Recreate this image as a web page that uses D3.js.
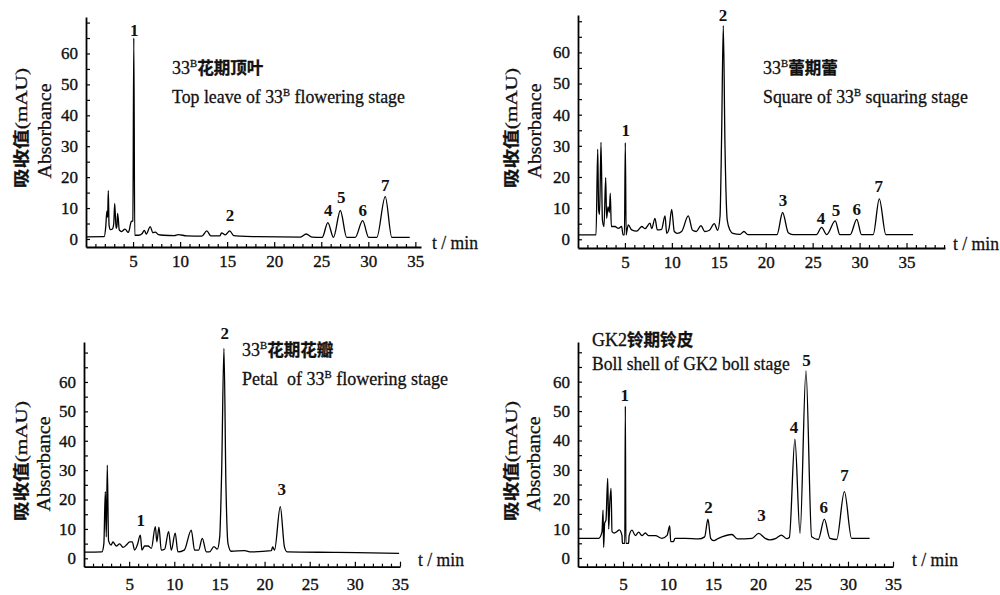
<!DOCTYPE html>
<html>
<head>
<meta charset="utf-8">
<script src="https://cdn.jsdelivr.net/npm/d3@7"></script>
<style>
body{margin:0;background:#fff;}
svg{display:block;}
svg text{white-space:pre;}
</style>
</head>
<body>
<svg id="chart" width="1000" height="595"></svg>
<script>
// ---- data: [time (min), absorbance (mAU)]
var leafTrace = [[0,0.7],[1.93,0.75],[2.1,4],[2.22,9],[2.3,7],[2.37,15.6],[2.45,4.5],[2.6,3],[2.8,3.2],[2.95,5],[3.05,11.5],[3.2,3.4],[3.28,4],[3.36,8.3],[3.54,2.9],[3.79,2.4],[4.14,3.2],[4.5,2.1],[4.81,5.6],[4.98,5.9],[5.08,65],[5.18,1.2],[5.59,1.2],[5.95,1.7],[6.2,2.8],[6.41,1.6],[6.83,4],[7.1,2],[7.36,2.2],[7.7,1.4],[8.24,1.2],[9.4,1.1],[9.8,1.4],[10.7,1.0],[12.3,0.9],[12.84,2.6],[13.26,1.0],[14.24,1.0],[14.4,2.0],[14.8,1.3],[15.27,2.6],[15.7,1.1],[16.4,0.9],[18.2,0.75],[22.8,0.6],[23.4,1.6],[24,0.6],[25.1,0.5],[25.7,5.3],[26.3,0.5],[27.03,9.2],[27.7,0.5],[28.6,0.5],[29.4,5.9],[30.04,0.5],[30.9,0.5],[31.8,13.7],[32.5,0.5],[34.4,0.5]];
var squareTrace = [[0,1.4],[1.92,1.4],[2.1,28.9],[2.2,9.4],[2.3,8],[2.45,31.1],[2.6,6.2],[2.77,4.1],[2.95,19.8],[3.05,6.7],[3.2,10.5],[3.34,8.6],[3.44,14.8],[3.55,4.1],[3.94,4.1],[4.3,3.5],[4.65,4.1],[4.8,1.4],[4.95,1.4],[5.04,31],[5.13,1.4],[5.2,2.5],[5.36,4.6],[5.72,3],[6.25,2.6],[6.8,4.1],[7.15,3.4],[7.67,5.2],[7.85,3.4],[8.2,6.7],[8.45,3],[8.9,3.2],[9.27,7.5],[9.45,1.9],[9.7,3.4],[9.98,9.6],[10.26,2.5],[10.58,1.9],[11.04,2.5],[11.75,7.5],[12.2,2.9],[12.6,2.5],[13.1,4.4],[13.5,2.5],[14.0,2.9],[14.52,5.0],[14.88,2.9],[15.13,7.3],[15.3,33],[15.48,68.6],[15.66,30],[15.9,6.1],[16.2,2.9],[16.5,1.9],[17.26,1.6],[17.68,2.5],[18.1,1.5],[21.2,1.5],[21.8,8.6],[22.4,2.1],[22.9,1.5],[25.4,1.5],[25.95,3.8],[26.5,1.5],[27.4,5.9],[27.9,1.5],[29.0,1.5],[29.7,6.4],[30.2,1.5],[31.45,1.5],[32.1,13],[32.8,1.5],[35.7,1.5]];
var petalTrace = [[0,2.1],[1.99,2.2],[2.2,5],[2.36,22.7],[2.47,7.3],[2.58,31.7],[2.72,6],[3.0,4.5],[3.2,5.6],[3.57,4.2],[3.95,4.9],[4.32,3.7],[4.69,4.5],[5.06,5.6],[5.35,5.6],[5.6,2.8],[5.9,4.5],[6.24,7.9],[6.42,2.8],[6.72,4.2],[7.09,4.2],[7.46,3.4],[7.9,10.8],[8.07,5.6],[8.3,10.6],[8.56,2.8],[8.93,3.1],[9.37,9.1],[9.67,2.8],[10.1,8.6],[10.4,2.2],[11.1,2.8],[11.88,9.6],[12.25,2.8],[12.7,2.8],[13.1,6.8],[13.55,2.2],[13.9,2.2],[14.4,4],[14.76,3.1],[15.03,7.3],[15.25,30],[15.5,71.4],[15.72,25],[15.95,5],[16.3,2.4],[17.8,2.6],[18.5,2.2],[20.75,2.6],[20.9,3.9],[21.1,2.8],[21.74,17.6],[22.2,3.9],[22.5,2.2],[28,2.0],[34.9,1.7]];
var bollTrace = [[0,6.7],[2.3,6.7],[2.67,9],[2.78,16.3],[2.85,3.6],[2.96,11.8],[3.11,13],[3.3,27.1],[3.41,9.8],[3.52,18],[3.67,23.7],[3.78,9],[4.04,8.5],[4.33,9],[4.59,9.6],[4.89,7.6],[4.93,5],[5.2,5],[5.26,51.7],[5.32,5],[5.62,5],[5.68,7.5],[6.0,9.5],[6.37,7.6],[6.74,8.8],[7.1,7.6],[7.48,8.5],[7.85,7.6],[8.6,7.6],[9.33,6.7],[9.9,7.7],[10.19,10.9],[10.3,5.6],[10.6,5.6],[10.78,6.7],[11.93,6.7],[13.4,6.5],[14.07,7.2],[14.44,13.2],[14.74,6.7],[15.07,5.9],[15.6,6.7],[17.1,8],[17.7,6.5],[19.33,6.7],[20.07,8.4],[20.8,6.7],[21.3,6.2],[22.0,6.7],[22.6,7.8],[23.2,6.6],[23.48,7],[24.1,40.4],[24.67,8.4],[25.33,63.7],[25.96,7.2],[26.7,6.3],[27.37,13.2],[27.99,6.7],[28.74,6.3],[29.6,22.6],[30.4,6.7],[32.4,6.7]];

// peak labels: [name, time, label level (mAU)]
var leafPeaks = [["1",5.13,63.4],["2",15.3,3.6],["4",25.75,5.2],["5",27.13,9.4],["6",29.4,5.2],["7",31.8,13.3]];
var squarePeaks = [["1",5.1,31],["2",15.44,67.9],["3",21.83,8.4],["4",25.88,2.6],["5",27.5,5.2],["6",29.7,5.5],["7",32.05,12.9]];
var petalPeaks = [["1",6.29,8.6],["2",15.6,72.3],["3",21.9,19.1]];
var bollPeaks = [["1",5.19,51],["2",14.5,12.9],["3",20.4,10.2],["4",24,40.1],["5",25.4,62.9],["6",27.3,12.9],["7",29.6,23.8]];

var titlesCn = ["33^B花期顶叶","33^B蕾期蕾","33^B花期花瓣","GK2铃期铃皮"];
var titlesEn = ["Top leave of 33^B flowering stage","Square of 33^B squaring stage","Petal  of 33^B flowering stage","Boll shell of GK2 boll stage"];
var yTickValues = [0,10,20,30,40,50,60];
var yTitleCn = "吸收值(mAU)", yTitleEn = "Absorbance", xUnit = "t / min";

var serif = '"Liberation Serif","Times New Roman",serif';
var cjk = '"Noto Sans CJK SC","Noto Sans CJK JP",sans-serif';
var svg = d3.select("#chart");

// layout of the four panels
var panels = [
  {trace:leafTrace, peaks:leafPeaks, cn:titlesCn[0], en:titlesEn[0],
   xd:[0,35.6], xr:[86,421], yd:[-2.6,71.8], yr:[247,17], pad:8,
   cnAt:[172,74], enAt:[172,103], enW:233, unitAt:[432,249], yt:[27,51,128]},
  {trace:squareTrace, peaks:squarePeaks, cn:titlesCn[1], en:titlesEn[1],
   xd:[0,39.1], xr:[578,945], yd:[-2.8,72], yr:[248,15], pad:8,
   cnAt:[763,74], enAt:[763,103], enW:205, unitAt:[953,250], yt:[517,541,128]},
  {trace:petalTrace, peaks:petalPeaks, cn:titlesCn[2], en:titlesEn[2],
   xd:[0,35], xr:[84,400], yd:[-2.85,73.6], yr:[566.7,342], pad:11,
   cnAt:[242,356], enAt:[242,385], enW:206, unitAt:[418,566], yt:[27,50,461]},
  {trace:bollTrace, peaks:bollPeaks, cn:titlesCn[3], en:titlesEn[3],
   xd:[0,35], xr:[578,893], yd:[-2.96,73.5], yr:[566.7,342], pad:11,
   cnAt:[592,346], enAt:[592,370], enW:198, unitAt:[912,566], yt:[517,540,461]}
];

// text with CJK runs, serif runs and a ^B superscript
function richText(sel, str, size) {
  var parts = str.split("^B");
  parts.forEach(function(part, i) {
    if (i > 0) {
      sel.append("tspan").attr("font-family", serif).attr("font-size", size*0.6)
        .attr("dy", -size*0.38).text("B");
    }
    var runs = part.match(/[\u4e00-\u9fff]+|[^\u4e00-\u9fff]+/g) || [];
    runs.forEach(function(r, j) {
      var isCjk = /[\u4e00-\u9fff]/.test(r);
      var t = sel.append("tspan")
        .attr("font-family", isCjk ? cjk : serif)
        .attr("font-weight", isCjk ? "bold" : "normal")
        .attr("font-size", isCjk ? size*0.92 : size)
        .text(r);
      if (i > 0 && j == 0) t.attr("dy", size*0.38);
    });
  });
  sel.attr("fill", "#111").attr("stroke", "#111").attr("stroke-width", 0.3);
}

// squeeze a text node horizontally to a target width
function fitWidth(textSel, x, y, w, rot) {
  var bw = textSel.node().getComputedTextLength();
  var s = w / bw;
  textSel.attr("transform", "translate(" + x + "," + y + ")" + (rot ? " rotate(" + rot + ")" : "") + " scale(" + s + ",1)");
}

panels.forEach(function(p) {
  var x = d3.scaleLinear().domain(p.xd).range(p.xr);
  var y = d3.scaleLinear().domain(p.yd).range(p.yr);
  var g = svg.append("g");

  // minor x ticks each minute
  var xMinor = d3.range(1, Math.floor(p.xd[1]) + 1).filter(function(d){ return d % 5 != 0; });
  g.append("g").attr("transform", "translate(0," + p.yr[0] + ")")
    .call(d3.axisBottom(x).tickValues(xMinor).tickSizeInner(-3).tickSizeOuter(0).tickFormat(""))
    .call(function(a){ a.select(".domain").remove(); });
  var xMajor = d3.range(5, Math.floor(p.xd[1]) + 1, 5);
  var xa = g.append("g").attr("transform", "translate(0," + p.yr[0] + ")")
    .call(d3.axisBottom(x).tickValues(xMajor).tickSizeInner(-5).tickSizeOuter(0).tickPadding(p.pad));
  xa.selectAll("text").attr("font-family", serif).attr("font-size", 17).attr("fill", "#111")
    .attr("stroke", "#111").attr("stroke-width", 0.35);

  var yTicks = d3.range(0, p.yd[1], 5);
  var ya = g.append("g").attr("transform", "translate(" + x(0) + ",0)")
    .call(d3.axisLeft(y).tickValues(yTicks).tickSizeInner(-4).tickSizeOuter(0).tickPadding(8)
      .tickFormat(function(d){ return yTickValues.indexOf(d) >= 0 ? d : ""; }));
  ya.selectAll("text").attr("font-family", serif).attr("font-size", 17).attr("fill", "#111")
    .attr("stroke", "#111").attr("stroke-width", 0.35);

  g.selectAll(".domain").attr("stroke", "#000").attr("stroke-width", 1.8);
  g.selectAll(".tick line").attr("stroke", "#000").attr("stroke-width", 1.2);

  // chromatogram trace
  var line = d3.line().x(function(d){ return x(d[0]); }).y(function(d){ return y(d[1]); })
    .curve(d3.curveMonotoneX);
  g.append("path").datum(p.trace).attr("d", line)
    .attr("fill", "none").attr("stroke", "#000").attr("stroke-width", 1.3).attr("stroke-linejoin", "round");

  // peak numbers
  g.selectAll("text.peak").data(p.peaks).enter().append("text").attr("class", "peak")
    .attr("x", function(d){ return x(d[1]); })
    .attr("y", function(d){ return y(d[2]) - 7; })
    .attr("text-anchor", "middle").attr("font-family", serif).attr("font-weight", "bold")
    .attr("font-size", 17).attr("fill", "#111").text(function(d){ return d[0]; });

  // titles
  var cn = g.append("text").attr("x", p.cnAt[0]).attr("y", p.cnAt[1]);
  richText(cn, p.cn, 18);
  var en = g.append("text");
  richText(en, p.en, 19);
  fitWidth(en, p.enAt[0], p.enAt[1], p.enW);

  // unit label
  var u = g.append("text").attr("font-family", serif).attr("font-size", 19)
    .attr("fill", "#111").attr("stroke", "#111").attr("stroke-width", 0.3).text(xUnit);
  fitWidth(u, p.unitAt[0], p.unitAt[1], 46);

  // y axis titles
  var t1 = g.append("text").attr("text-anchor", "middle");
  richText(t1, yTitleCn, 17);
  fitWidth(t1, p.yt[0], p.yt[2], 120, -90);
  var t2 = g.append("text").attr("text-anchor", "middle").attr("font-family", serif)
    .attr("font-size", 18).attr("fill", "#111").attr("stroke", "#111").attr("stroke-width", 0.3)
    .text(yTitleEn);
  fitWidth(t2, p.yt[1], p.yt[2] + 3, 95, -90);
});
</script>
</body>
</html>
